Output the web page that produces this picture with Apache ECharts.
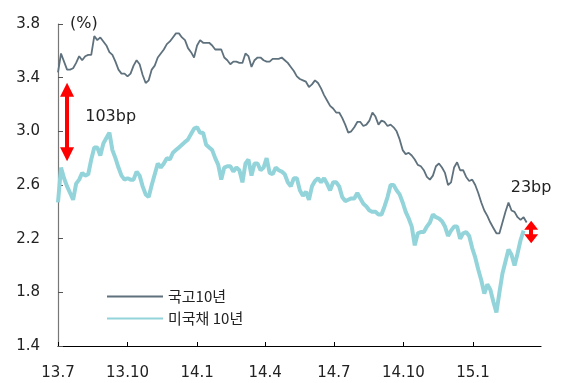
<!DOCTYPE html>
<html>
<head>
<meta charset="utf-8">
<script src="https://cdn.jsdelivr.net/npm/echarts@6/dist/echarts.min.js"></script>
<style>
  html, body { margin: 0; padding: 0; background: #fff; }
  #chart { width: 566px; height: 383px; }
</style>
</head>
<body>
<div id="chart"></div>
<script>
// Observations every 4 calendar days from 2013-07-01
const START_DATE = '2013-07-01';
const DAY_STEP = 4;

// Quarter tick dates and their labels
const tickDates = ['2013-07-01', '2013-10-01', '2014-01-01', '2014-04-01', '2014-07-01', '2014-10-01', '2015-01-01'];
const tickLabels = ['13.7', '13.10', '14.1', '14.4', '14.7', '14.10', '15.1'];
const axisEndDate = '2015-04-01';

const yTicks = [1.4, 1.8, 2.2, 2.6, 3.0, 3.4, 3.8];

// 국고채 10년물 금리 (%)
const ktb10y = [
  3.44, 3.58, 3.52, 3.46, 3.46, 3.47, 3.51, 3.56, 3.53, 3.56,
  3.57, 3.57, 3.71, 3.68, 3.70, 3.67, 3.64, 3.59, 3.57, 3.52,
  3.46, 3.43, 3.43, 3.41, 3.43, 3.49, 3.53, 3.50, 3.42, 3.36,
  3.38, 3.46, 3.49, 3.55, 3.58, 3.61, 3.65, 3.67, 3.70, 3.73,
  3.73, 3.70, 3.68, 3.62, 3.59, 3.55, 3.64, 3.68, 3.66, 3.66,
  3.66, 3.64, 3.61, 3.61, 3.61, 3.55, 3.53, 3.50, 3.52, 3.52,
  3.51, 3.51, 3.58, 3.56, 3.48, 3.53, 3.55, 3.55, 3.53, 3.52,
  3.52, 3.54, 3.54, 3.54, 3.55, 3.53, 3.51, 3.48, 3.45, 3.41,
  3.39, 3.38, 3.37, 3.33, 3.35, 3.38, 3.36, 3.32, 3.27, 3.23,
  3.19, 3.17, 3.14, 3.14, 3.10, 3.05, 2.99, 3.00, 3.03, 3.07,
  3.07, 3.04, 3.05, 3.08, 3.14, 3.11, 3.05, 3.08, 3.07, 3.04,
  3.05, 3.03, 3.00, 2.94, 2.86, 2.83, 2.84, 2.82, 2.79, 2.75,
  2.74, 2.71, 2.66, 2.64, 2.67, 2.74, 2.76, 2.73, 2.69, 2.60,
  2.62, 2.73, 2.77, 2.71, 2.71, 2.66, 2.63, 2.64, 2.60, 2.54,
  2.47, 2.41, 2.37, 2.32, 2.28, 2.24, 2.24, 2.32, 2.40, 2.47,
  2.41, 2.40, 2.36, 2.34, 2.36, 2.32
];

// 미국채 10년물 금리 (%)
const ust10y = [
  2.47, 2.73, 2.65, 2.59, 2.54, 2.49, 2.61, 2.64, 2.69, 2.67,
  2.68, 2.79, 2.88, 2.88, 2.82, 2.91, 2.95, 2.99, 2.86, 2.80,
  2.73, 2.67, 2.64, 2.65, 2.64, 2.64, 2.70, 2.67, 2.59, 2.53,
  2.51, 2.60, 2.68, 2.76, 2.73, 2.76, 2.80, 2.79, 2.84, 2.86,
  2.88, 2.90, 2.92, 2.94, 2.98, 3.02, 3.03, 2.99, 2.99, 2.90,
  2.88, 2.86, 2.80, 2.75, 2.64, 2.73, 2.74, 2.74, 2.70, 2.73,
  2.71, 2.62, 2.76, 2.79, 2.67, 2.76, 2.76, 2.71, 2.73, 2.80,
  2.69, 2.68, 2.73, 2.71, 2.70, 2.68, 2.62, 2.59, 2.65, 2.65,
  2.56, 2.52, 2.55, 2.49, 2.59, 2.63, 2.65, 2.62, 2.65, 2.61,
  2.56, 2.62, 2.62, 2.59, 2.51, 2.48, 2.49, 2.50, 2.50, 2.54,
  2.50, 2.46, 2.44, 2.41, 2.40, 2.40, 2.38, 2.38, 2.44, 2.51,
  2.60, 2.60, 2.56, 2.53, 2.47, 2.40, 2.35, 2.29, 2.15, 2.24,
  2.25, 2.25, 2.29, 2.32, 2.38, 2.36, 2.35, 2.33, 2.29, 2.22,
  2.26, 2.29, 2.29, 2.20, 2.24, 2.25, 2.22, 2.13, 2.06, 1.97,
  1.89, 1.79, 1.86, 1.82, 1.73, 1.65, 1.80, 1.94, 2.03, 2.12,
  2.08, 2.00, 2.09, 2.19, 2.26
];

const seriesNames = ['국고10년', '미국채 10년'];

function dayOf(dateStr) {
  const t0 = Date.parse(START_DATE + 'T00:00:00Z');
  const t = Date.parse(dateStr + 'T00:00:00Z');
  return Math.round((t - t0) / 86400000);
}

const tickDays = tickDates.map(dayOf);
const toPoints = (arr) => arr.map((v, i) => [i * DAY_STEP, v]);

const NUM_FONT = 'DejaVu Sans';
const KR_FONT = '"Noto Sans CJK KR", "Noto Sans", sans-serif';
const TEXT = '#222';
const RED = '#ff0000';

const chart = echarts.init(document.getElementById('chart'), null, { renderer: 'canvas' });

chart.setOption({
  animation: false,
  backgroundColor: '#ffffff',
  grid: { left: 58, right: 25, top: 24, bottom: 37, containLabel: false },
  legend: {
    orient: 'vertical',
    left: 101,
    top: 284,
    itemWidth: 56,
    itemHeight: 14,
    itemGap: 7,
    itemStyle: { opacity: 0 },
    data: seriesNames,
    textStyle: { fontFamily: KR_FONT, fontSize: 15, color: TEXT }
  },
  xAxis: {
    type: 'value',
    min: 0,
    max: dayOf(axisEndDate),
    splitLine: { show: false },
    axisLine: { lineStyle: { color: '#000', width: 1.2 } },
    axisTick: { inside: true, length: 4, customValues: tickDays, lineStyle: { color: '#000' } },
    axisLabel: {
      customValues: tickDays,
      margin: 20,
      fontFamily: NUM_FONT,
      fontSize: 15,
      color: TEXT,
      formatter: (v) => tickLabels[tickDays.indexOf(Math.round(v))] || ''
    }
  },
  yAxis: {
    type: 'value',
    min: 1.4,
    max: 3.8,
    name: '(%)',
    nameLocation: 'end',
    nameGap: 0,
    nameTextStyle: {
      fontFamily: NUM_FONT, fontSize: 16, color: TEXT,
      align: 'left', verticalAlign: 'middle', padding: [0, 0, 0, 12]
    },
    splitLine: { show: false },
    axisLine: { show: true, lineStyle: { color: '#777', width: 1.2 } },
    axisTick: { show: true, inside: true, length: 5, customValues: yTicks, lineStyle: { color: '#555' } },
    axisLabel: {
      customValues: yTicks,
      margin: 18,
      fontFamily: NUM_FONT,
      fontSize: 15,
      color: TEXT,
      formatter: (v) => v.toFixed(1)
    }
  },
  series: [
    {
      name: seriesNames[1],
      type: 'line',
      data: toPoints(ust10y),
      symbol: 'none',
      lineStyle: { color: '#93d4da', width: 4 },
      itemStyle: { color: '#93d4da' },
      z: 2
    },
    {
      name: seriesNames[0],
      type: 'line',
      data: toPoints(ktb10y),
      symbol: 'none',
      lineStyle: { color: '#5e717d', width: 1.8 },
      itemStyle: { color: '#5e717d' },
      z: 3,
      markLine: {
        silent: true,
        symbol: ['triangle', 'triangle'],
        symbolSize: [14, 14],
        lineStyle: { color: RED, width: 4, type: 'solid' },
        label: { show: false },
        data: [
          [{ coord: [12, 3.31] }, { coord: [12, 2.83] }],
          [{ coord: [626, 2.30], symbolSize: [14, 9] }, { coord: [626, 2.20], symbolSize: [14, 9] }]
        ]
      },
      markPoint: {
        silent: true,
        symbol: 'circle',
        symbolSize: 0,
        label: {
          show: true,
          position: 'right',
          distance: 0,
          fontFamily: NUM_FONT,
          fontSize: 16,
          color: TEXT,
          formatter: (p) => p.name
        },
        data: [
          { name: '103bp', coord: [36, 3.11] },
          { name: '23bp', coord: [599, 2.58] }
        ]
      }
    }
  ]
});
</script>
</body>
</html>
